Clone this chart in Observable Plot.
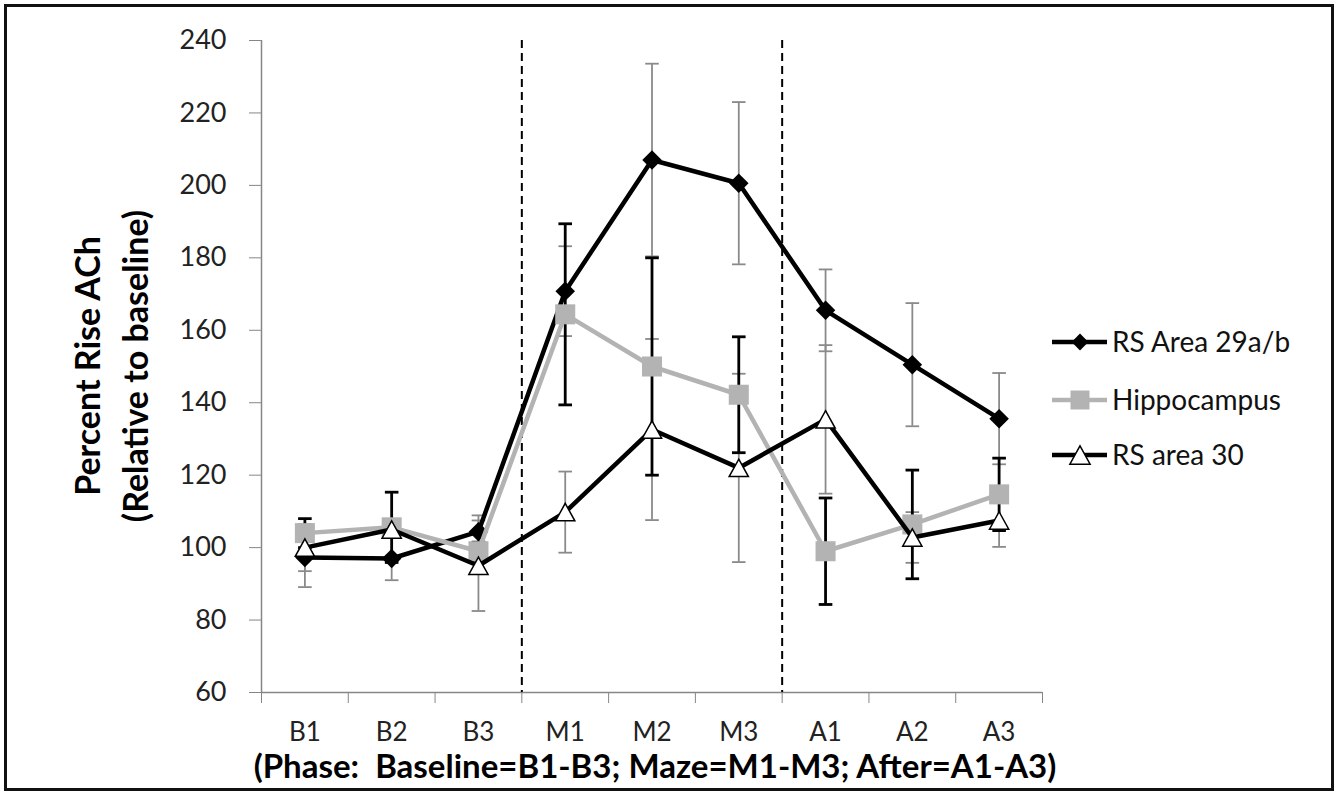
<!DOCTYPE html>
<html>
<head>
<meta charset="utf-8">
<script src="https://cdn.jsdelivr.net/npm/d3@7"></script>
<script src="https://cdn.jsdelivr.net/npm/@observablehq/plot@0.6"></script>
<style>
  body { margin: 0; background: #fff; }
  #wrap { position: relative; width: 1342px; height: 793px; overflow: hidden; background: #fff; font-family: Lato, "Open Sans", sans-serif; }
  #wrap > svg.plot { position: absolute; left: 0; top: 0; }
  #frame { position: absolute; left: 4px; top: 4px; width: 1330px; height: 787px; box-sizing: border-box; border: 3px solid #111; pointer-events: none; }
  #ytitle { position: absolute; left: 111px; top: 366px; transform: translate(-50%, -50%) rotate(-90deg); font-weight: 700; font-size: 34px; line-height: 48px; text-align: center; white-space: nowrap; color: #000; }
  #caption { position: absolute; left: 655px; top: 749px; transform: translateX(-50%); font-weight: 700; font-size: 33px; line-height: 33px; white-space: nowrap; color: #000; }
  #legend { position: absolute; left: 1040px; top: 300px; }
</style>
</head>
<body>
<div id="wrap">
  <div id="ytitle">Percent Rise ACh<br>(Relative to baseline)</div>
  <div id="caption">(Phase:&nbsp; Baseline=B1-B3; Maze=M1-M3; After=A1-A3)</div>
  <svg id="legend" width="300" height="200"></svg>
  <div id="frame"></div>
</div>
<script>
// ---- data ----
const categories = ["B1", "B2", "B3", "M1", "M2", "M3", "A1", "A2", "A3"];
const phaseStarts = ["M1", "A1"];
const yTicks = [60, 80, 100, 120, 140, 160, 180, 200, 220, 240];
const seriesNames = ["RS Area 29a/b", "Hippocampus", "RS area 30"];

const rs29 = [97.3, 97.0, 104.4, 170.8, 207.0, 200.6, 165.5, 150.5, 135.6];
const rs29Err = [8.2, 6.0, 4.5, 12.4, 26.6, 22.4, 11.3, 17.0, 12.6];

const hippo = [104.0, 105.6, 99.0, 164.4, 150.0, 142.2, 99.0, 106.4, 114.7];
const hippoErr = [4.0, 9.7, 2.5, 25.0, 30.0, 16.0, 14.7, 15.0, 10.0];

const rs30 = [100.0, 105.0, 95.0, 109.8, 132.6, 122.0, 135.4, 102.8, 107.5];
const rs30Err = [6.5, 2.0, 12.5, 11.2, 25.0, 26.0, 20.5, 7.0, 7.3];

// ---- build tables ----
const rowsOf = (vals, errs) => categories.map((c, i) => ({cat: c, i, v: vals[i], lo: vals[i] - errs[i], hi: vals[i] + errs[i]}));
const r29 = rowsOf(rs29, rs29Err);
const rHip = rowsOf(hippo, hippoErr);
const r30 = rowsOf(rs30, rs30Err);
const positions = categories.map((c, i) => i);
const boundaries = d3.range(categories.length + 1).map(k => k - 0.5);

// custom symbols
const capSymbol = {draw(ctx, size) { const r = Math.sqrt(size / Math.PI); ctx.moveTo(-r, 0); ctx.lineTo(r, 0); }};
const triSymbol = {draw(ctx, size) { const r = Math.sqrt(size / Math.PI); const h = r * 2.35, w = r * 2.6; ctx.moveTo(0, -h / 2); ctx.lineTo(w / 2, h / 2); ctx.lineTo(-w / 2, h / 2); ctx.closePath(); }};

const grayBar = "#8a8a8a";
const hipColor = "#b3b3b3";

function errorBars(rows, color, width) {
  return [
    Plot.ruleX(rows, {x: "i", y1: "lo", y2: "hi", stroke: color, strokeWidth: width}),
    Plot.dot(rows, {x: "i", y: "lo", symbol: capSymbol, r: 6.8, fill: "none", stroke: color, strokeWidth: width}),
    Plot.dot(rows, {x: "i", y: "hi", symbol: capSymbol, r: 6.8, fill: "none", stroke: color, strokeWidth: width})
  ];
}

const chart = Plot.plot({
  width: 1342,
  height: 793,
  marginLeft: 261,
  marginRight: 300,
  marginTop: 40,
  marginBottom: 101,
  style: {fontFamily: "Lato, 'Open Sans', sans-serif", fontSize: "27px", background: "transparent", overflow: "visible"},
  x: {type: "linear", domain: [-0.5, categories.length - 0.5], axis: null},
  y: {type: "linear", domain: [60, 240], axis: null},
  marks: [
    // axes
    Plot.axisY({ticks: yTicks, tickSize: 12, tickPadding: 23, stroke: "#868686", fill: "#222", fontSize: 27, label: null}),
    Plot.axisX({ticks: boundaries, tickSize: 11, tickFormat: () => "", stroke: "#868686", label: null}),
    Plot.axisX({ticks: positions, tickSize: 0, tickPadding: 30, tickFormat: i => categories[i], fill: "#222", fontSize: 26, label: null}),
    Plot.ruleX([-0.5], {stroke: "#868686", strokeWidth: 1.5}),
    Plot.ruleY([60], {stroke: "#868686", strokeWidth: 1.5}),
    // phase separators
    Plot.ruleX(phaseStarts, {x: d => categories.indexOf(d) - 0.5, stroke: "#000", strokeWidth: 2, strokeDasharray: "8,5"}),
    // error bars
    ...errorBars(r29, grayBar, 1.8),
    ...errorBars(r30, grayBar, 1.8),
    ...errorBars(rHip, "#000", 2.8),
    // RS Area 29a/b
    Plot.line(r29, {x: "i", y: "v", stroke: "#000", strokeWidth: 4.5}),
    Plot.dot(r29, {x: "i", y: "v", symbol: "diamond2", r: 8.8, fill: "#000", stroke: "none"}),
    // Hippocampus
    Plot.line(rHip, {x: "i", y: "v", stroke: hipColor, strokeWidth: 4.5}),
    Plot.dot(rHip, {x: "i", y: "v", symbol: "square", r: 11.3, fill: hipColor, stroke: "none"}),
    // RS area 30
    Plot.line(r30, {x: "i", y: "v", stroke: "#000", strokeWidth: 4.5}),
    Plot.dot(r30, {x: "i", y: "v", symbol: triSymbol, r: 7.4, fill: "#fff", stroke: "#000", strokeWidth: 1.5})
  ]
});
chart.classList.add("plot");
document.getElementById("wrap").prepend(chart);

// ---- legend ----
const legend = d3.select("#legend");
const legendItems = [
  {name: seriesNames[0], line: "#000", fill: "#000", stroke: "none", symbol: d3.symbolDiamond2, size: 180},
  {name: seriesNames[1], line: hipColor, fill: hipColor, stroke: "none", symbol: d3.symbolSquare, size: 360},
  {name: seriesNames[2], line: "#000", fill: "#fff", stroke: "#000", symbol: triSymbol, size: 190}
];
const rowY = [42, 100, 155];
legendItems.forEach((d, k) => {
  const g = legend.append("g").attr("transform", `translate(0,${rowY[k]})`);
  g.append("line").attr("x1", 12).attr("x2", 67).attr("y1", 0).attr("y2", 0).attr("stroke", d.line).attr("stroke-width", 4.5);
  g.append("path").attr("transform", "translate(40,0)").attr("d", d3.symbol(d.symbol, d.size)()).attr("fill", d.fill).attr("stroke", d.stroke).attr("stroke-width", 1.5);
  g.append("text").attr("x", 72).attr("y", 10).attr("font-size", 28).attr("font-family", "Lato, 'Open Sans', sans-serif").attr("fill", "#111").text(d.name);
});
</script>
</body>
</html>
